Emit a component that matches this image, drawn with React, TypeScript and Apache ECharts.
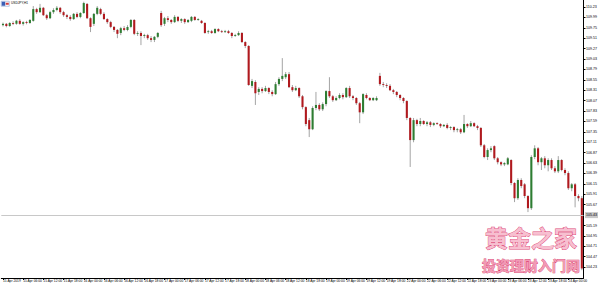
import React, { useEffect, useRef } from "react";
import * as echarts from "echarts";

const chartTitle = "USDJPY,H1";
const watermarkTop = "黄金之家";
const watermarkBottom = "投资理财入门网";

const opens = [
  109.81, 109.84, 109.79, 109.86, 109.84, 109.91, 109.84, 109.88, 109.86, 109.91,
  110.18, 110.11, 110.21, 110.04, 109.97, 110.11, 110.16, 110.21, 110.11, 110.04,
  110.00, 109.95, 110.07, 110.00, 110.09, 110.30, 109.97, 109.84, 110.07, 110.18,
  110.07, 109.95, 109.88, 109.77, 109.70, 109.63, 109.74, 109.70, 109.77, 109.93,
  109.61, 109.63, 109.56, 109.58, 109.51, 109.47, 109.54, 110.09, 109.84, 109.97,
  109.93, 109.88, 110.00, 109.91, 109.95, 109.88, 109.91, 110.00, 109.93, 109.91,
  109.86, 109.65, 109.67, 109.63, 109.72, 109.67, 109.65, 109.67, 109.63, 109.56,
  109.58, 109.63, 109.42, 109.33, 108.41, 108.50, 108.27, 108.34, 108.29, 108.36,
  108.27, 108.22, 108.45, 108.57, 108.61, 108.68, 108.38, 108.31, 108.36, 108.17,
  107.92, 107.62, 107.41, 107.90, 107.97, 107.87, 107.99, 108.29, 108.17, 108.08,
  108.13, 108.20, 108.15, 108.36, 108.17, 108.13, 108.01, 107.80, 108.20, 108.13,
  108.08, 108.08, 108.64, 108.45, 108.43, 108.41, 108.31, 108.27, 108.20, 108.13,
  108.06, 107.67, 107.16, 107.62, 107.53, 107.60, 107.53, 107.57, 107.51, 107.55,
  107.53, 107.48, 107.51, 107.44, 107.46, 107.39, 107.41, 107.34, 107.53, 107.48,
  107.55, 107.48, 107.44, 107.04, 106.77, 106.93, 107.02, 106.74, 106.65, 106.60,
  106.60, 106.70, 106.17, 105.82, 106.24, 106.14, 105.87, 105.59, 106.77, 106.97,
  106.65, 106.74, 106.58, 106.70, 106.51, 106.44, 106.70, 106.47, 106.40, 106.05,
  106.14, 105.87, 105.82,
];

const closes = [
  109.84, 109.79, 109.86, 109.84, 109.91, 109.84, 109.88, 109.86, 109.93, 110.18,
  110.11, 110.21, 110.04, 109.97, 110.11, 110.16, 110.21, 110.11, 110.04, 110.00,
  109.95, 110.07, 110.00, 110.09, 110.32, 109.97, 109.77, 110.07, 110.21, 110.07,
  109.95, 109.88, 109.77, 109.70, 109.61, 109.74, 109.70, 109.77, 109.93, 109.61,
  109.63, 109.56, 109.58, 109.51, 109.47, 109.54, 109.63, 109.81, 109.97, 109.93,
  109.88, 110.00, 109.91, 109.95, 109.88, 109.93, 110.00, 109.93, 109.95, 109.86,
  109.63, 109.67, 109.63, 109.72, 109.67, 109.65, 109.67, 109.63, 109.56, 109.58,
  109.63, 109.42, 109.33, 108.43, 108.52, 108.24, 108.34, 108.29, 108.36, 108.27,
  108.22, 108.45, 108.57, 108.64, 108.68, 108.38, 108.31, 108.36, 108.17, 107.92,
  107.53, 107.41, 107.90, 107.97, 107.87, 107.99, 108.29, 108.17, 108.08, 108.13,
  108.20, 108.15, 108.36, 108.17, 108.13, 108.01, 107.80, 108.22, 108.13, 108.08,
  108.13, 108.13, 108.45, 108.43, 108.41, 108.31, 108.27, 108.20, 108.13, 108.06,
  107.67, 107.16, 107.62, 107.53, 107.60, 107.53, 107.57, 107.51, 107.55, 107.53,
  107.48, 107.51, 107.44, 107.46, 107.39, 107.41, 107.34, 107.53, 107.48, 107.55,
  107.48, 107.44, 107.04, 106.77, 106.93, 106.97, 106.74, 106.65, 106.60, 106.63,
  106.74, 106.17, 105.82, 106.24, 106.10, 105.87, 105.59, 106.77, 106.97, 106.65,
  106.74, 106.58, 106.70, 106.51, 106.44, 106.70, 106.47, 106.40, 106.05, 106.14,
  105.87, 105.82, 104.20,
];

const lows = [
  109.78, 109.76, 109.77, 109.81, 109.82, 109.82, 109.80, 109.83, 109.84, 109.89,
  110.07, 110.09, 110.02, 109.93, 109.95, 110.07, 110.13, 110.07, 110.00, 109.95,
  109.91, 109.93, 109.97, 109.97, 110.07, 109.95, 109.65, 109.79, 110.04, 110.04,
  109.93, 109.84, 109.74, 109.65, 109.51, 109.58, 109.67, 109.67, 109.74, 109.58,
  109.56, 109.35, 109.51, 109.47, 109.42, 109.42, 109.51, 109.77, 109.79, 109.88,
  109.84, 109.86, 109.88, 109.86, 109.84, 109.86, 109.88, 109.91, 109.91, 109.84,
  109.61, 109.61, 109.61, 109.61, 109.65, 109.63, 109.63, 109.61, 109.51, 109.54,
  109.56, 109.40, 109.28, 108.41, 108.36, 107.97, 108.20, 108.24, 108.27, 108.22,
  108.17, 108.20, 108.41, 108.52, 108.57, 108.36, 108.27, 108.29, 108.13, 107.87,
  107.48, 107.23, 107.39, 107.85, 107.83, 107.83, 107.94, 108.13, 108.04, 108.06,
  108.10, 108.10, 108.13, 108.13, 108.08, 107.97, 107.55, 107.76, 108.10, 108.06,
  108.06, 108.06, 108.41, 108.38, 108.36, 108.29, 108.22, 108.15, 108.08, 108.01,
  107.62, 106.54, 107.11, 107.48, 107.48, 107.51, 107.48, 107.46, 107.48, 107.51,
  107.44, 107.46, 107.41, 107.39, 107.34, 107.34, 107.30, 107.32, 107.44, 107.46,
  107.46, 107.39, 107.00, 106.74, 106.70, 106.88, 106.70, 106.60, 106.56, 106.56,
  106.58, 106.12, 105.73, 105.78, 106.05, 105.82, 105.50, 105.55, 106.72, 106.58,
  106.47, 106.51, 106.44, 106.47, 106.40, 106.40, 106.44, 106.35, 106.01, 105.98,
  105.61, 105.75, 104.16,
];

const highs = [
  109.87, 109.86, 109.88, 109.90, 109.93, 109.95, 109.90, 109.91, 109.95, 110.25,
  110.21, 110.30, 110.23, 110.07, 110.14, 110.20, 110.25, 110.23, 110.14, 110.07,
  110.04, 110.09, 110.11, 110.11, 110.35, 110.32, 109.99, 110.09, 110.25, 110.21,
  110.11, 109.97, 109.91, 109.79, 109.72, 109.77, 109.79, 109.81, 109.95, 109.95,
  109.67, 109.67, 109.61, 109.61, 109.56, 109.56, 109.65, 110.14, 110.00, 110.02,
  109.95, 110.04, 110.02, 109.97, 109.97, 109.95, 110.02, 110.02, 109.97, 109.93,
  109.88, 109.70, 109.70, 109.74, 109.74, 109.70, 109.70, 109.70, 109.65, 109.61,
  109.67, 109.65, 109.44, 109.35, 108.57, 108.54, 108.38, 108.38, 108.41, 108.38,
  108.31, 108.50, 108.61, 109.05, 108.73, 108.73, 108.43, 108.41, 108.38, 108.20,
  107.94, 107.67, 107.94, 108.27, 108.01, 108.03, 108.31, 108.61, 108.20, 108.17,
  108.24, 108.24, 108.38, 108.41, 108.20, 108.15, 108.04, 108.24, 108.24, 108.15,
  108.15, 108.17, 108.71, 108.50, 108.47, 108.45, 108.34, 108.29, 108.22, 108.15,
  108.08, 107.69, 107.67, 107.65, 107.67, 107.62, 107.60, 107.60, 107.57, 107.57,
  107.55, 107.53, 107.55, 107.48, 107.48, 107.44, 107.44, 107.74, 107.55, 107.60,
  107.57, 107.51, 107.46, 107.07, 106.97, 107.02, 107.04, 106.77, 106.67, 106.65,
  106.77, 106.72, 106.19, 106.28, 106.28, 106.17, 105.89, 106.81, 107.04, 107.00,
  106.77, 106.79, 106.74, 106.74, 106.56, 106.79, 106.72, 106.51, 106.44, 106.17,
  106.17, 105.91, 105.87,
];

const yTickValues = [
  110.23, 109.99, 109.75, 109.51, 109.27, 109.03, 108.79, 108.55, 108.31,
  108.07, 107.83, 107.59, 107.35, 107.11, 106.87, 106.63, 106.39, 106.15,
  105.91, 105.67, 105.19, 104.95, 104.71, 104.47, 104.23,
];
const yMin = 103.98;
const yMax = 110.39;
const horizontalLevel = 105.43;

const xTickLabels = [
  "15 Apr 2019", "15 Apr 06:00", "15 Apr 12:00", "15 Apr 18:00", "16 Apr 00:00",
  "16 Apr 06:00", "16 Apr 12:00", "16 Apr 18:00", "17 Apr 00:00", "17 Apr 06:00",
  "17 Apr 12:00", "17 Apr 18:00", "18 Apr 00:00", "18 Apr 06:00", "18 Apr 12:00",
  "18 Apr 18:00", "19 Apr 00:00", "19 Apr 06:00", "19 Apr 12:00", "19 Apr 18:00",
  "22 Apr 00:00", "22 Apr 06:00", "22 Apr 12:00", "22 Apr 18:00", "23 Apr 00:00",
  "23 Apr 06:00", "23 Apr 12:00", "23 Apr 18:00", "24 Apr 00:00",
];
const barsPerLabel = 6;

const UP_COLOR = "#2e7d32";
const DOWN_COLOR = "#b0191e";
const WICK_COLOR = "#9a9a9a";

export default function App() {
  const ref = useRef<HTMLDivElement>(null);

  useEffect(() => {
    if (!ref.current) return;
    const chart = echarts.init(ref.current, undefined, { renderer: "svg" });
    const categories = opens.map((_, i) => String(i));
    const data = opens.map((o, i) => [i, o, closes[i], lows[i], highs[i]]);

    const option: any = {
      animation: false,
      backgroundColor: "#ffffff",
      grid: { left: 0, right: 13, top: 0, bottom: 6, containLabel: false },
      xAxis: {
        type: "category",
        data: categories,
        boundaryGap: true,
        axisLine: { show: true, lineStyle: { color: "#000", width: 1 } },
        axisTick: {
          show: true,
          interval: barsPerLabel - 1,
          alignWithLabel: true,
          length: 2,
          lineStyle: { color: "#000" },
        },
        axisLabel: {
          show: true,
          interval: barsPerLabel - 1,
          align: "left",
          fontSize: 3.3,
          margin: 1.5,
          color: "#000",
          fontFamily: "Liberation Sans",
          formatter: (_v: string, idx: number) =>
            xTickLabels[Math.round(idx / barsPerLabel)] ?? "",
        },
        splitLine: { show: false },
      },
      yAxis: {
        type: "value",
        position: "right",
        min: yMin,
        max: yMax,
        scale: true,
        splitLine: { show: false },
        axisLine: { show: true, lineStyle: { color: "#000", width: 1 } },
        axisTick: {
          show: true,
          length: 2,
          customValues: yTickValues,
          lineStyle: { color: "#000" },
        },
        axisLabel: {
          show: true,
          customValues: yTickValues,
          fontSize: 3.6,
          margin: 2.5,
          color: "#000",
          fontFamily: "Liberation Sans",
          formatter: (v: number) => v.toFixed(2),
        },
      },
      series: [
        {
          type: "line",
          data: [],
          silent: true,
          markLine: {
            silent: true,
            symbol: "none",
            data: [{ yAxis: horizontalLevel }],
            lineStyle: { color: "#c8c8c8", type: "solid", width: 1 },
            label: {
              show: true,
              position: "end",
              distance: 1.5,
              formatter: horizontalLevel.toFixed(2),
              fontSize: 3.6,
              color: "#000",
              fontFamily: "Liberation Sans",
              backgroundColor: "#c8c8c8",
              padding: [1, 1],
            },
          },
        },
        {
          type: "custom",
          data,
          encode: { x: 0, y: [1, 2, 3, 4] },
          renderItem: (_params: any, api: any) => {
            const idx = api.value(0);
            const o = api.value(1);
            const c = api.value(2);
            const l = api.value(3);
            const h = api.value(4);
            const pO = api.coord([idx, o]);
            const pC = api.coord([idx, c]);
            const pL = api.coord([idx, l]);
            const pH = api.coord([idx, h]);
            const w = api.size([1, 0])[0] * 0.62;
            const up = c >= o;
            const top = Math.min(pO[1], pC[1]);
            const hgt = Math.max(Math.abs(pO[1] - pC[1]), 0.8);
            return {
              type: "group",
              children: [
                {
                  type: "line",
                  shape: { x1: pL[0], y1: pL[1], x2: pH[0], y2: pH[1] },
                  style: { stroke: WICK_COLOR, lineWidth: 0.9 },
                },
                {
                  type: "rect",
                  shape: { x: pO[0] - w / 2, y: top, width: w, height: hgt },
                  style: { fill: up ? UP_COLOR : DOWN_COLOR },
                },
              ],
            };
          },
        },
      ],
      graphic: [
        {
          type: "group",
          left: 1,
          top: 1,
          children: [
            { type: "rect", shape: { x: 0, y: 0, width: 8, height: 5 }, style: { fill: "#ffffff", stroke: "#6c8cc8", lineWidth: 0.5 } },
            { type: "rect", shape: { x: 0.5, y: 0.5, width: 3.5, height: 4 }, style: { fill: "#3b5fb5" } },
            { type: "rect", shape: { x: 4.5, y: 1.5, width: 3, height: 2 }, style: { fill: "#d23c3c" } },
          ],
        },
        {
          type: "text",
          left: 11,
          top: 1.5,
          style: {
            text: chartTitle,
            fontSize: 3.2,
            fill: "#000",
            fontFamily: "Liberation Sans",
          },
        },
        {
          type: "text",
          x: 531,
          y: 237,
          style: {
            text: watermarkTop,
            font: 'bold 23px "Noto Sans CJK SC"',
            fill: "#f7bfd0",
            stroke: "#dc4a78",
            lineWidth: 0.9,
            textAlign: "center",
            textVerticalAlign: "middle",
          },
        },
        {
          type: "text",
          x: 531,
          y: 265,
          style: {
            text: watermarkBottom,
            font: 'bold 14px "Noto Sans CJK SC"',
            fill: "#f29ab5",
            stroke: "#d63d6c",
            lineWidth: 0.7,
            textAlign: "center",
            textVerticalAlign: "middle",
          },
        },
      ],
    };

    chart.setOption(option);
    return () => chart.dispose();
  }, []);

  return (
    <div
      ref={ref}
      style={{ position: "fixed", left: 0, top: 0, width: 600, height: 284, background: "#fff" }}
    />
  );
}
